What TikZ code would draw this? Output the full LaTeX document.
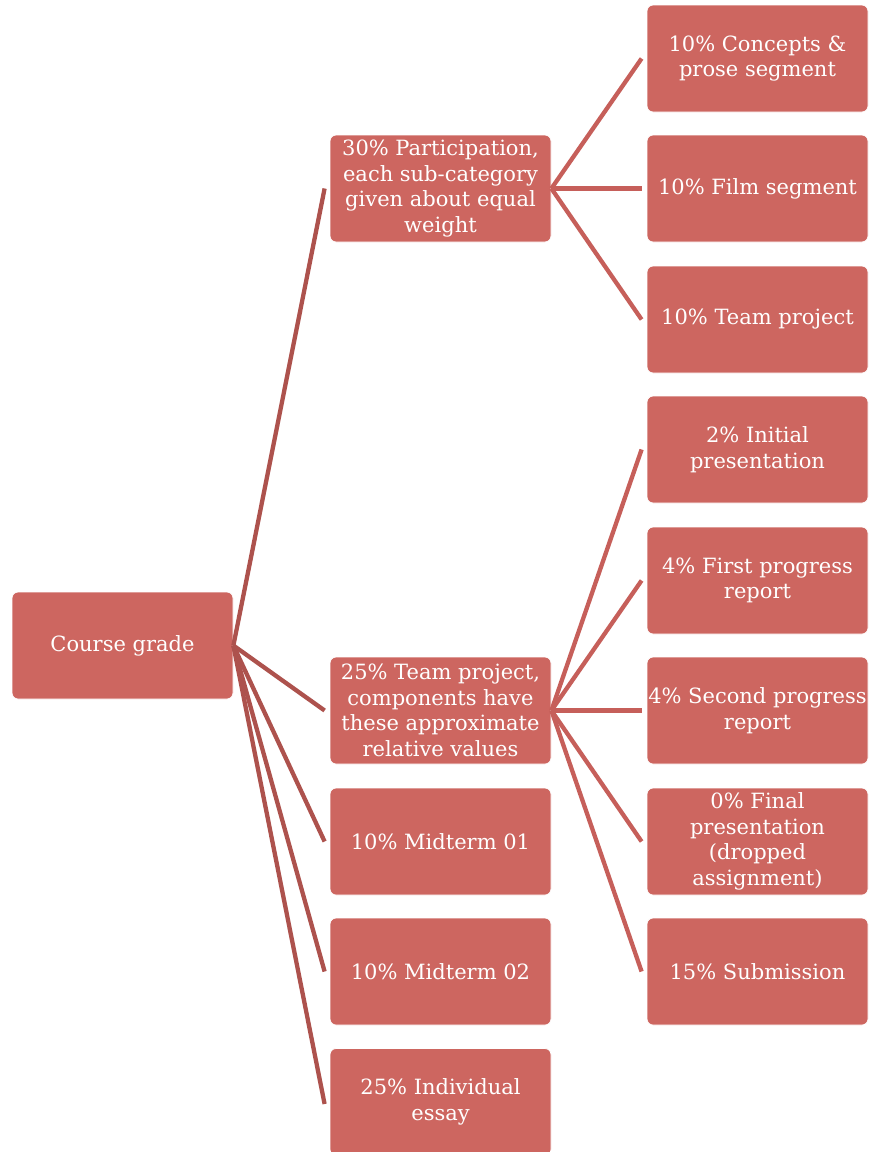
\documentclass[tikz,border=0pt]{standalone}
\usepackage{fontspec}
\setmainfont{DejaVu Serif}
\usepackage{tikz}
\definecolor{boxfill}{HTML}{CD6660}
\definecolor{lineA}{HTML}{AD524D}
\definecolor{lineB}{HTML}{C65F5A}
\begin{document}
\begin{tikzpicture}[x=1pt,y=-1pt,
  gbox/.style={fill=boxfill,draw=white,line width=0.8pt,rounded corners=6pt,
    minimum width=221pt,minimum height=107pt,inner sep=1pt,align=center,
    text=white,font=\fontsize{21}{25.5}\selectfont},
  conA/.style={draw=lineA,line width=4.3pt},
  conB/.style={draw=lineB,line width=4.3pt}]
\useasboundingbox (0,0) rectangle (877,1152);
\node[gbox] (cg) at (122.5,645.5) {Course grade};
\node[gbox] (p) at (440.5,188.5) {30\% Participation,\\each sub-category\\given about equal\\weight};
\node[gbox] (t) at (440.5,710.5) {25\% Team project,\\components have\\these approximate\\relative values};
\node[gbox] (m1) at (440.5,841.5) {10\% Midterm 01};
\node[gbox] (m2) at (440.5,971.5) {10\% Midterm 02};
\node[gbox] (e) at (440.5,1102) {25\% Individual\\essay};
\node[gbox] (c1) at (757.5,58.5) {10\% Concepts \&\\prose segment};
\node[gbox] (c2) at (757.5,188.5) {10\% Film segment};
\node[gbox] (c3) at (757.5,319.5) {10\% Team project};
\node[gbox] (d1) at (757.5,449.5) {2\% Initial\\presentation};
\node[gbox] (d2) at (757.5,580.5) {4\% First progress\\report};
\node[gbox] (d3) at (757.5,710.5) {4\% Second progress\\report};
\node[gbox] (d4) at (757.5,841.5) {0\% Final\\presentation\\(dropped\\assignment)};
\node[gbox] (d5) at (757.5,971.5) {15\% Submission};
\foreach \c in {p,t,m1,m2}
  \draw[conA] (cg.east) -- ([xshift=-5pt]\c.west);
\draw[conA] (cg.east) -- ([xshift=-5pt,yshift=-2pt]e.west);
\foreach \c in {c1,c2,c3}
  \draw[conB] (p.east) -- ([xshift=-5pt]\c.west);
\foreach \c in {d1,d2,d3,d4,d5}
  \draw[conB] (t.east) -- ([xshift=-5pt]\c.west);
\end{tikzpicture}
\end{document}
